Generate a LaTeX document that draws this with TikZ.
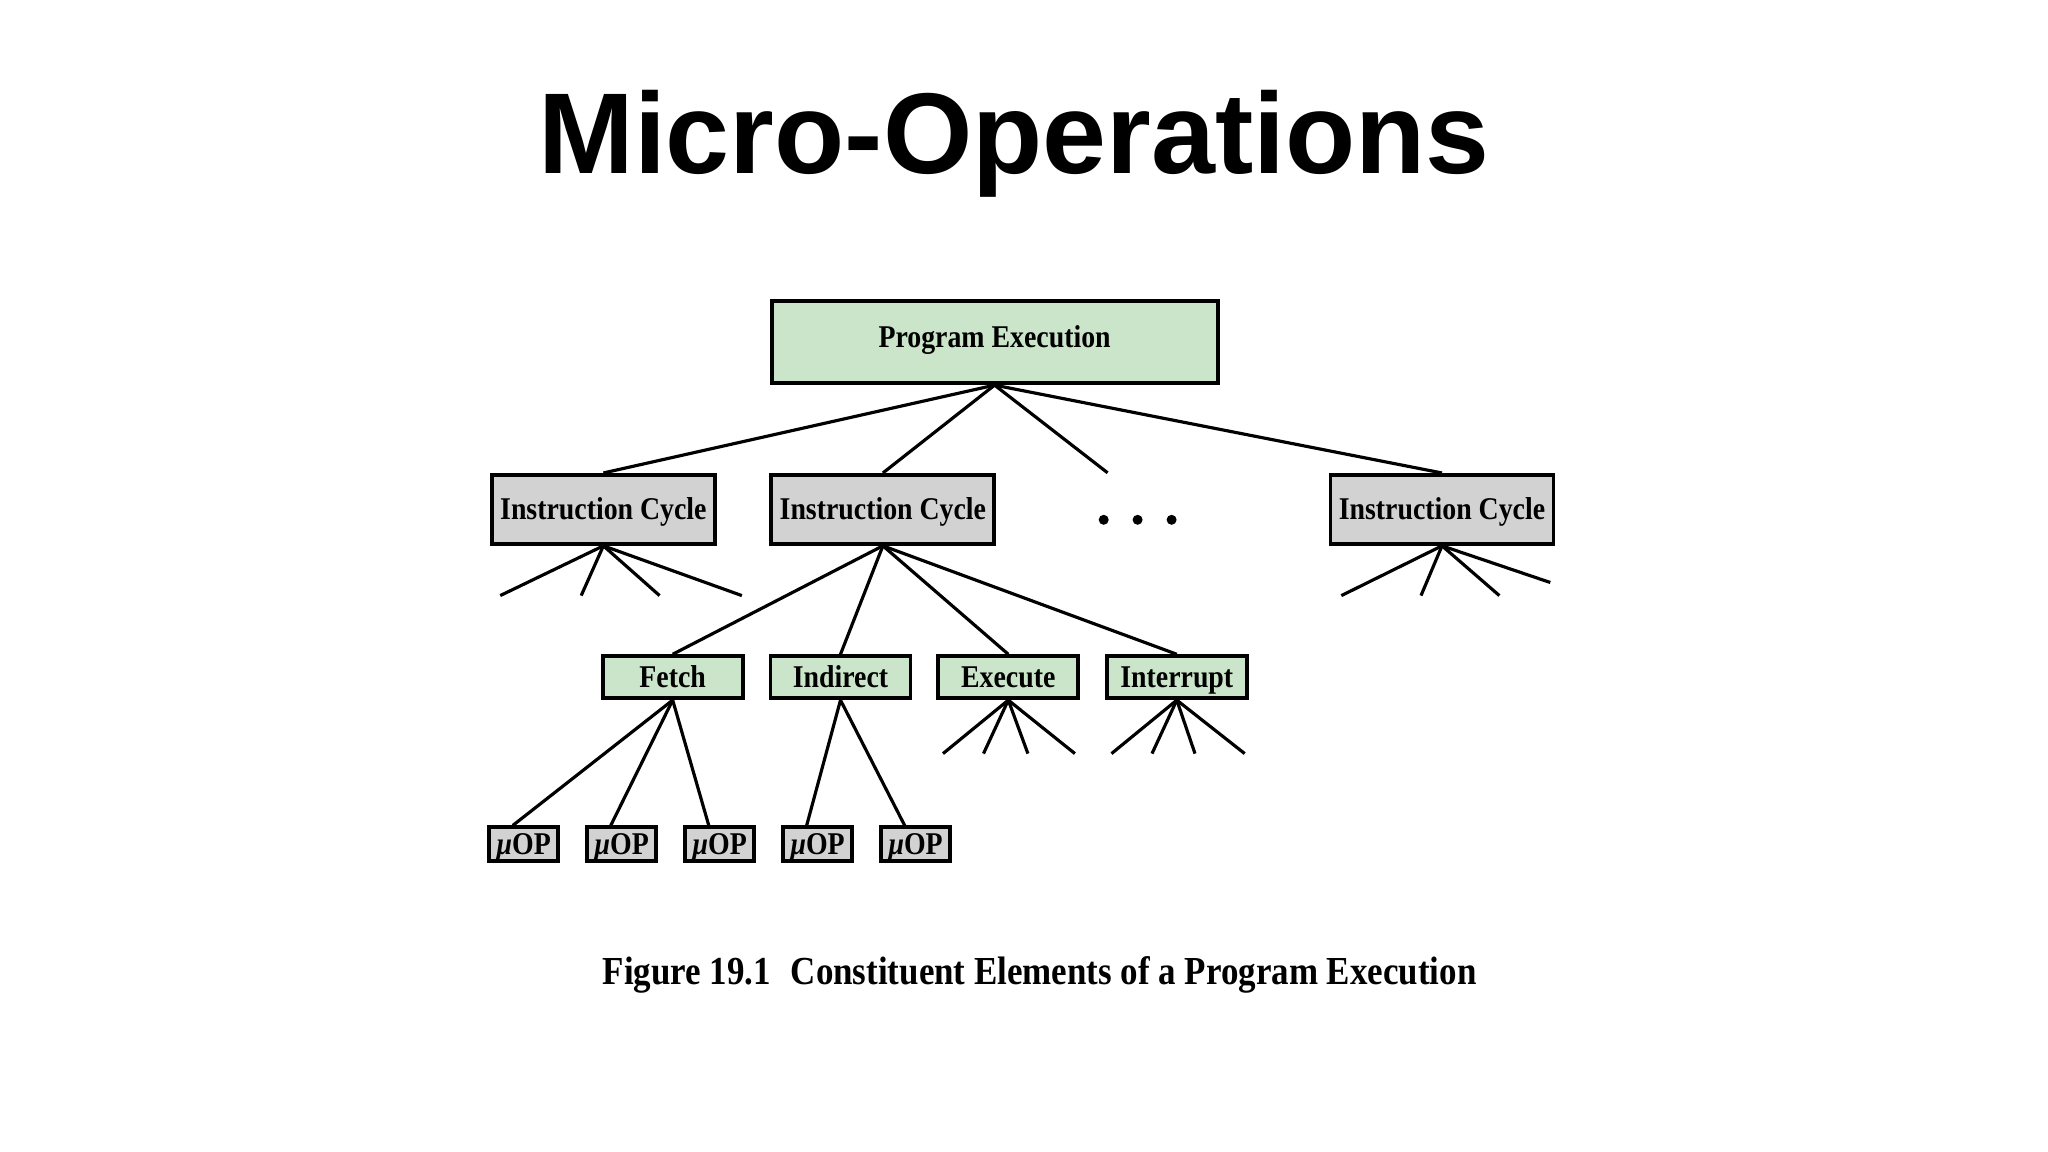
\documentclass[tikz,border=0pt]{standalone}
\usepackage{fontspec}
\usepackage{tikz}
\usetikzlibrary{positioning}
\newfontfamily\titlefont{Liberation Sans}
\newfontfamily\figfont[FakeStretch=0.88]{Liberation Serif}
\definecolor{phasegreen}{RGB}{202,229,202}
\definecolor{cyclegray}{RGB}{210,210,210}

\begin{document}
\begin{tikzpicture}[
    greenbox/.style={
        draw,
        fill=phasegreen,
        line width=1.1pt,
        inner sep=0pt,
        text height=7pt,
        text depth=1pt,
        font=\figfont\bfseries\fontsize{9}{10.8}\selectfont
    },
    graybox/.style={
        draw,
        fill=cyclegray,
        line width=1.1pt,
        inner sep=0pt,
        text height=7pt,
        text depth=1pt,
        font=\figfont\bfseries\fontsize{9}{10.8}\selectfont
    },
    treeline/.style={line width=0.9pt}
]
\useasboundingbox (0,0) rectangle (20.48,-11.52);

\node[anchor=base, font=\titlefont\bfseries\fontsize{32.7}{39}\selectfont] (title) at (10.14,-1.737) {Micro-Operations};

% top level
\node[greenbox, text height=6.5pt, text depth=3.5pt, minimum width=4.46cm, minimum height=0.82cm] (prog) at (9.946,-3.422) {Program Execution};

% instruction cycles
\node[graybox, minimum width=2.23cm, minimum height=0.69cm] (cyc1) at (6.034,-5.094) {Instruction Cycle};
\node[graybox, minimum width=2.23cm, minimum height=0.69cm] (cyc2) at (8.829,-5.094) {Instruction Cycle};
\node[graybox, minimum width=2.23cm, minimum height=0.69cm] (cyc3) at (14.42,-5.094) {Instruction Cycle};

% phases of one cycle
\node[greenbox, minimum width=1.40cm, minimum height=0.42cm] (fetch) at (6.727,-6.772) {Fetch};
\node[greenbox, minimum width=1.40cm, minimum height=0.42cm] (indirect) at (8.405,-6.772) {Indirect};
\node[greenbox, minimum width=1.40cm, minimum height=0.42cm] (execute) at (10.083,-6.772) {Execute};
\node[greenbox, minimum width=1.40cm, minimum height=0.42cm] (interrupt) at (11.768,-6.772) {Interrupt};

% micro-operations
\node[graybox, minimum width=0.69cm, minimum height=0.34cm] (uop1) at (5.237,-8.444) {{\itshape μ}OP};
\node[graybox, minimum width=0.69cm, minimum height=0.34cm] (uop2) at (6.217,-8.444) {{\itshape μ}OP};
\node[graybox, minimum width=0.69cm, minimum height=0.34cm] (uop3) at (7.197,-8.444) {{\itshape μ}OP};
\node[graybox, minimum width=0.69cm, minimum height=0.34cm] (uop4) at (8.176,-8.444) {{\itshape μ}OP};
\node[graybox, minimum width=0.69cm, minimum height=0.34cm] (uop5) at (9.156,-8.444) {{\itshape μ}OP};

\node[anchor=base, font=\figfont\bfseries\fontsize{11.3}{13.5}\selectfont] (caption) at (10.396,-9.848) {Figure 19.1\enspace Constituent Elements of a Program Execution};

% open ends of the tree
\coordinate (progopen) at (11.076,-4.728);
\coordinate (c1a) at (5.002,-5.956);
\coordinate (c1b) at (5.812,-5.956);
\coordinate (c1c) at (6.596,-5.956);
\coordinate (c1d) at (7.419,-5.956);
\coordinate (c3a) at (13.414,-5.956);
\coordinate (c3b) at (14.210,-5.956);
\coordinate (c3c) at (14.994,-5.956);
\coordinate (c3d) at (15.503,-5.825);
\coordinate (exa) at (9.430,-7.536);
\coordinate (exb) at (9.835,-7.536);
\coordinate (exc) at (10.279,-7.536);
\coordinate (exd) at (10.749,-7.536);
\coordinate (ina) at (11.115,-7.536);
\coordinate (inb) at (11.520,-7.536);
\coordinate (inc) at (11.950,-7.536);
\coordinate (ind) at (12.447,-7.536);

\draw[treeline] (prog.south) -- (cyc1.north);
\draw[treeline] (prog.south) -- (cyc2.north);
\draw[treeline] (prog.south) -- (progopen);
\draw[treeline] (prog.south) -- (cyc3.north);

\fill (11.037,-5.198) circle (0.05);
\fill (11.376,-5.198) circle (0.05);
\fill (11.716,-5.198) circle (0.05);

\draw[treeline] (cyc1.south) -- (c1a);
\draw[treeline] (cyc1.south) -- (c1b);
\draw[treeline] (cyc1.south) -- (c1c);
\draw[treeline] (cyc1.south) -- (c1d);

\draw[treeline] (cyc2.south) -- (fetch.north);
\draw[treeline] (cyc2.south) -- (indirect.north);
\draw[treeline] (cyc2.south) -- (execute.north);
\draw[treeline] (cyc2.south) -- (interrupt.north);

\draw[treeline] (cyc3.south) -- (c3a);
\draw[treeline] (cyc3.south) -- (c3b);
\draw[treeline] (cyc3.south) -- (c3c);
\draw[treeline] (cyc3.south) -- (c3d);

\draw[treeline] (fetch.south) -- (uop1.120);
\draw[treeline] (fetch.south) -- (uop2.120);
\draw[treeline] (fetch.south) -- (uop3.120);
\draw[treeline] (indirect.south) -- (uop4.120);
\draw[treeline] (indirect.south) -- (uop5.120);

\draw[treeline] (execute.south) -- (exa);
\draw[treeline] (execute.south) -- (exb);
\draw[treeline] (execute.south) -- (exc);
\draw[treeline] (execute.south) -- (exd);

\draw[treeline] (interrupt.south) -- (ina);
\draw[treeline] (interrupt.south) -- (inb);
\draw[treeline] (interrupt.south) -- (inc);
\draw[treeline] (interrupt.south) -- (ind);
\end{tikzpicture}
\end{document}
